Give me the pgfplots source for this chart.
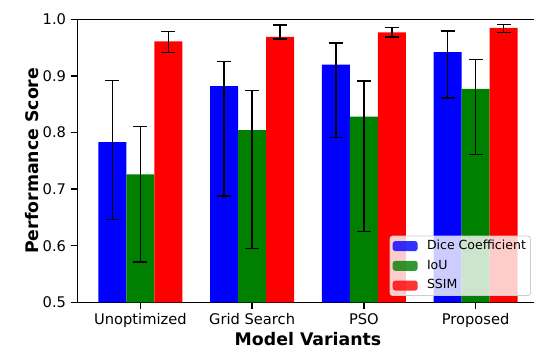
\documentclass[border=0pt]{standalone}
\usepackage{pgfplots}
\usepackage{pgfplotstable}
\pgfplotsset{compat=1.18}
\usepackage{fontspec}
\setmainfont{DejaVu Sans}
\definecolor{mblue}{RGB}{0,0,255}
\definecolor{mgreen}{RGB}{0,128,0}
\definecolor{mred}{RGB}{255,0,0}

\pgfplotstableread{
x y ep em
0 0.783 0.109 0.137
1 0.882 0.043 0.194
2 0.920 0.038 0.129
3 0.942 0.037 0.081
}\dice
\pgfplotstableread{
x y ep em
0 0.726 0.085 0.155
1 0.804 0.070 0.209
2 0.828 0.063 0.203
3 0.877 0.052 0.116
}\iou
\pgfplotstableread{
x y ep em
0 0.961 0.017 0.020
1 0.969 0.021 0.004
2 0.977 0.008 0.008
3 0.985 0.006 0.008
}\ssim

\begin{document}
\begin{tikzpicture}
\begin{axis}[
  at={(0,0)}, anchor=south west,
  scale only axis,
  width=345.9pt, height=212.25pt,
  xmin=-0.5635, xmax=3.5635,
  ymin=0.5, ymax=1.0,
  ybar, bar width=0.25,
  xtick={0,1,2,3},
  xticklabels={Unoptimized, Grid Search, PSO, Proposed},
  ytick={0.5,0.6,0.7,0.8,0.9,1.0},
  /pgf/number format/assume math mode=true,
  yticklabel style={/pgf/number format/.cd, fixed, fixed zerofill, precision=1},
  tick label style={font=\fontsize{11}{13}\selectfont},
  xtick pos=bottom, ytick pos=left,
  tick align=outside,
  major tick length=5pt,
  every tick/.style={black, line width=1pt},
  axis line style={line width=1pt},
  xlabel={Model Variants},
  ylabel={Performance Score},
  every axis x label/.style={at={(axis description cs:0.5,-0.1534)}, anchor=base, font=\fontsize{13}{15}\selectfont\bfseries},
  every axis y label/.style={at={(axis description cs:-0.0854,0.5)}, anchor=base, rotate=90, font=\fontsize{13}{15}\selectfont\bfseries},
  error bars/y dir=both,
  error bars/y explicit,
  error bars/error bar style={black, line width=1.1pt},
  error bars/error mark options={black, rotate=90, mark size=5.25pt, line width=1.1pt},
  legend style={at={(0.9835,0.0223)}, anchor=south east,
    fill=white, fill opacity=0.8, draw opacity=1, text opacity=1,
    draw=black!20, rounded corners=2pt, line width=0.6pt,
    font=\fontsize{9.4}{11}\selectfont,
    inner xsep=2pt, inner ysep=1.5pt, row sep=2.8pt,
    nodes={inner sep=1.5pt, text height=7pt, text depth=2pt}},
  /tikz/every odd column/.append style={column sep=5.5pt},
  legend cell align=left,
  legend image code/.code={\fill[#1] (0pt,-3.75pt) rectangle (18.75pt,3.75pt);},
]
\addplot[fill=mblue, draw=none, bar shift=-0.25] table[x=x,y=y,y error plus=ep,y error minus=em]{\dice};
\addplot[fill=mgreen, draw=none, bar shift=0] table[x=x,y=y,y error plus=ep,y error minus=em]{\iou};
\addplot[fill=mred, draw=none, bar shift=0.25] table[x=x,y=y,y error plus=ep,y error minus=em]{\ssim};
\legend{Dice Coefficient, IoU, SSIM}
\end{axis}
\pgfresetboundingbox
\useasboundingbox (-58.05pt,-35.8pt) rectangle (342.45pt,226.7pt);
\end{tikzpicture}
\end{document}
